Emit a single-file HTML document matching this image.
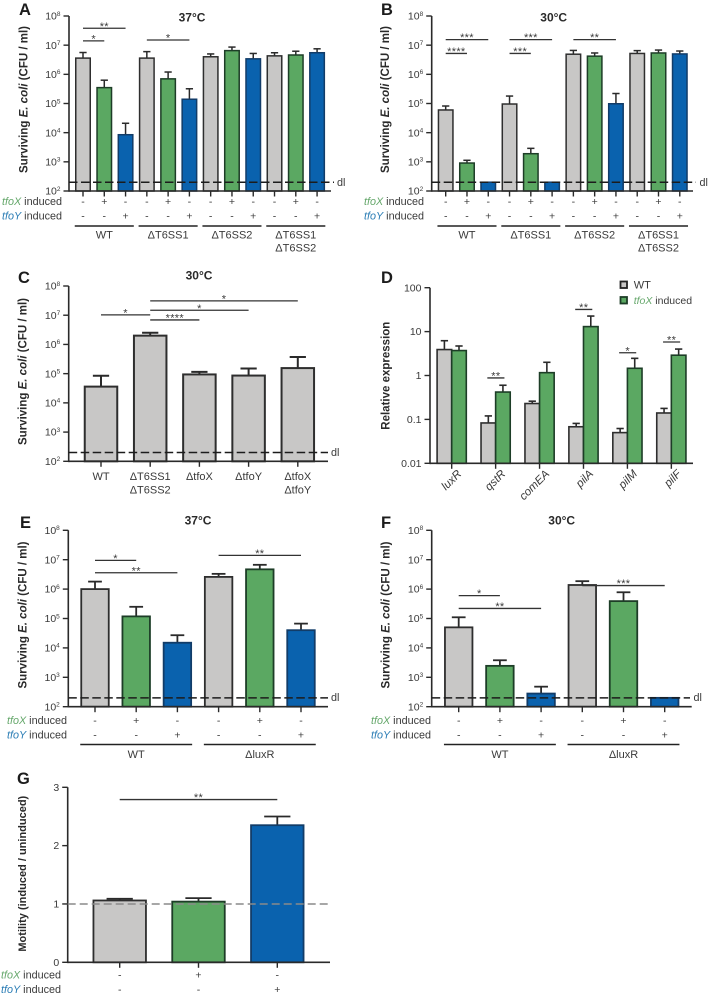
<!DOCTYPE html>
<html lang="en">
<head>
<meta charset="utf-8">
<title>Surviving E. coli bar charts</title>
<style>
html,body{margin:0;padding:0;background:#fff;}
svg{display:block;font-family:"Liberation Sans",sans-serif;fill:#3a3a3a;filter:blur(0.3px);}
.letter{font-size:16.5px;font-weight:bold;fill:#1c1c1c;}
.title{font-size:12px;font-weight:bold;text-anchor:middle;fill:#2a2a2a;}
.ytitle{font-size:11.5px;font-weight:bold;text-anchor:middle;fill:#2a2a2a;}
.row{font-size:10.8px;text-anchor:end;}
.x{font-style:italic;}
.dl{font-size:10.8px;}
.tx{fill:#66a86c;font-style:italic;}
.ty{fill:#2b7db5;font-style:italic;}
</style>
</head>
<body>
<svg id="figure" width="709" height="996" viewBox="0 0 709 996" xmlns="http://www.w3.org/2000/svg">
<text class="letter" x="19" y="15">A</text>
<text class="letter" x="381" y="15">B</text>
<text class="letter" x="18" y="283">C</text>
<text class="letter" x="381" y="283">D</text>
<text class="letter" x="20" y="528">E</text>
<text class="letter" x="381" y="528">F</text>
<text class="letter" x="17" y="784">G</text>

<text class="title" x="192" y="21.5">37°C</text>
<text class="title" x="553.7" y="21.5">30°C</text>
<text class="title" x="199" y="279.5">30°C</text>
<text class="title" x="198" y="524.5">37°C</text>
<text class="title" x="561.7" y="524.5">30°C</text>

<text class="ytitle" transform="translate(27.5 99.5) rotate(-90)">Surviving <tspan font-style="italic">E. coli</tspan> (CFU / ml)</text>
<text class="ytitle" transform="translate(389 99.5) rotate(-90)">Surviving <tspan font-style="italic">E. coli</tspan> (CFU / ml)</text>
<text class="ytitle" transform="translate(26.5 371.5) rotate(-90)">Surviving <tspan font-style="italic">E. coli</tspan> (CFU / ml)</text>
<text class="ytitle" transform="translate(389.5 375.7) rotate(-90)">Relative expression</text>
<text class="ytitle" transform="translate(26.5 615) rotate(-90)">Surviving <tspan font-style="italic">E. coli</tspan> (CFU / ml)</text>
<text class="ytitle" transform="translate(389.5 615) rotate(-90)">Surviving <tspan font-style="italic">E. coli</tspan> (CFU / ml)</text>
<text class="ytitle" style="font-size:11px" transform="translate(26 873.7) rotate(-90)">Motility (induced / uninduced)</text>

<text class="row" x="62" y="205"><tspan class="tx">tfoX</tspan> induced</text>
<text class="row" x="62" y="219.7"><tspan class="ty">tfoY</tspan> induced</text>
<text class="row" x="424" y="205"><tspan class="tx">tfoX</tspan> induced</text>
<text class="row" x="424" y="219.7"><tspan class="ty">tfoY</tspan> induced</text>
<text class="row" x="67" y="724"><tspan class="tx">tfoX</tspan> induced</text>
<text class="row" x="67" y="738.7"><tspan class="ty">tfoY</tspan> induced</text>
<text class="row" x="431" y="724"><tspan class="tx">tfoX</tspan> induced</text>
<text class="row" x="431" y="738.7"><tspan class="ty">tfoY</tspan> induced</text>
<text class="row" x="61" y="978.7"><tspan class="tx">tfoX</tspan> induced</text>
<text class="row" x="61" y="993"><tspan class="ty">tfoY</tspan> induced</text>

<text class="dl" x="337" y="186">dl</text>
<text class="dl" x="699.5" y="186">dl</text>
<text class="dl" x="331" y="456">dl</text>
<text class="dl" x="331" y="701">dl</text>
<text class="dl" x="693.5" y="701">dl</text>

<rect x="620.5" y="281.5" width="6.5" height="6.5" fill="#c8c7c6" stroke="#222" stroke-width="1.8"/>
<text x="633.7" y="288.5" font-size="11">WT</text>
<rect x="620.5" y="297" width="6.5" height="6.5" fill="#5ba862" stroke="#1d3d27" stroke-width="1.8"/>
<text x="633.7" y="304" font-size="10.5"><tspan class="tx">tfoX</tspan> induced</text>
</svg>

<script>
// ---------- Data ----------
const detectionLimit = 200;
const motilityReference = 1;
const survivalTicks = [1e2, 1e3, 1e4, 1e5, 1e6, 1e7, 1e8];

const panelAValues = [3.6e6, 3.5e5, 8.5e3, 3.6e6, 7e5, 1.4e5, 4e6, 6.5e6, 3.4e6, 4.3e6, 4.6e6, 5.5e6];
const panelAErrors = [5.6e6, 6.3e5, 2.1e4, 6e6, 1.2e6, 3.2e5, 5e6, 8.6e6, 5.2e6, 5.5e6, 6.2e6, 7.5e6];
const panelATfoX = ['-', '+', '-', '-', '+', '-', '-', '+', '-', '-', '+', '-'];
const panelATfoY = ['-', '-', '+', '-', '-', '+', '-', '-', '+', '-', '-', '+'];
const panelAGroups = ['WT', 'ΔT6SS1', 'ΔT6SS2', 'ΔT6SS1|ΔT6SS2'];
const panelASigFrom = [0, 0, 3];
const panelASigTo = [2, 1, 5];
const panelASigLevel = [3.8e7, 1.4e7, 1.5e7];
const panelASigLabel = ['**', '*', '*'];

const panelBValues = [6e4, 9.1e2, 200, 9.6e4, 1.9e3, 200, 4.9e6, 4.2e6, 9.8e4, 5.2e6, 5.4e6, 5e6];
const panelBErrors = [8.2e4, 1.13e3, 200, 1.8e5, 2.9e3, 200, 6.6e6, 5.4e6, 2.2e5, 6.5e6, 6.8e6, 6.3e6];
const panelBTfoX = ['-', '+', '-', '-', '+', '-', '-', '+', '-', '-', '+', '-'];
const panelBTfoY = ['-', '-', '+', '-', '-', '+', '-', '-', '+', '-', '-', '+'];
const panelBGroups = ['WT', 'ΔT6SS1', 'ΔT6SS2', 'ΔT6SS1|ΔT6SS2'];
const panelBSigFrom = [0, 0, 3, 3, 6];
const panelBSigTo = [2, 1, 5, 4, 8];
const panelBSigLevel = [1.55e7, 5.2e6, 1.55e7, 5.2e6, 1.55e7];
const panelBSigLabel = ['***', '****', '***', '***', '**'];

const panelCCategories = ['WT', 'ΔT6SS1|ΔT6SS2', 'ΔtfoX', 'ΔtfoY', 'ΔtfoX|ΔtfoY'];
const panelCValues = [3.6e4, 2e6, 9.4e4, 8.6e4, 1.55e5];
const panelCErrors = [8.5e4, 2.5e6, 1.15e5, 1.5e5, 3.7e5];
const panelCSigFrom = [0, 1, 1, 1];
const panelCSigTo = [1, 2, 3, 4];
const panelCSigLevel = [1.03e7, 6.9e6, 1.48e7, 3.1e7];
const panelCSigLabel = ['*', '****', '*', '*'];

const panelDGenes = ['luxR', 'qstR', 'comEA', 'pilA', 'pilM', 'pilF'];
const panelDWildType = [3.9, 0.083, 0.23, 0.068, 0.05, 0.14];
const panelDWildTypeErrors = [6.2, 0.12, 0.26, 0.081, 0.062, 0.178];
const panelDInduced = [3.7, 0.42, 1.16, 13, 1.46, 2.9];
const panelDInducedErrors = [4.7, 0.6, 2.0, 22.6, 2.46, 4.0];
const panelDTicks = [0.01, 0.1, 1, 10, 100];
const panelDTickLabels = ['0.01', '0.1', '1', '10', '100'];
const panelDSigGene = [1, 3, 4, 5];
const panelDSigLevel = [0.88, 32, 3.3, 5.8];
const panelDSigLabel = ['**', '**', '*', '**'];

const panelEValues = [1e6, 1.18e5, 1.5e4, 2.6e6, 4.7e6, 4e4];
const panelEErrors = [1.8e6, 2.5e5, 2.7e4, 3.3e6, 6.7e6, 6.7e4];
const panelETfoX = ['-', '+', '-', '-', '+', '-'];
const panelETfoY = ['-', '-', '+', '-', '-', '+'];
const panelEGroups = ['WT', 'ΔluxR'];
const panelESigFrom = [0, 0, 3];
const panelESigTo = [1, 2, 5];
const panelESigLevel = [9.5e6, 3.6e6, 1.4e7];
const panelESigLabel = ['*', '**', '**'];

const panelFValues = [5e4, 2.45e3, 2.8e2, 1.38e6, 3.9e5, 200];
const panelFErrors = [1.1e5, 3.8e3, 4.8e2, 1.86e6, 7.8e5, 200];
const panelFTfoX = ['-', '+', '-', '-', '+', '-'];
const panelFTfoY = ['-', '-', '+', '-', '-', '+'];
const panelFGroups = ['WT', 'ΔluxR'];
const panelFSigFrom = [0, 0, 3];
const panelFSigTo = [1, 2, 5];
const panelFSigLevel = [6e5, 2.2e5, 1.32e6];
const panelFSigLabel = ['*', '**', '***'];

const panelGValues = [1.06, 1.04, 2.35];
const panelGErrors = [1.09, 1.10, 2.50];
const panelGTfoX = ['-', '+', '-'];
const panelGTfoY = ['-', '-', '+'];
const panelGTicks = [0, 1, 2, 3];
const panelGSigFrom = [0];
const panelGSigTo = [2];
const panelGSigLevel = [2.79];
const panelGSigLabel = ['**'];

// ---------- Helpers ----------
const SVGNS = 'http://www.w3.org/2000/svg';
const figure = document.getElementById('figure');
const INK = '#2a2a2a';
const FILLS = {grey: '#c8c7c6', green: '#5ba862', blue: '#0a62ae'};
const EDGES = {grey: '#2e2e2e', green: '#1d3d27', blue: '#123c68'};

function mk(tag, attrs, parent) {
  const node = document.createElementNS(SVGNS, tag);
  for (const k in attrs) node.setAttribute(k, attrs[k]);
  (parent || figure).appendChild(node);
  return node;
}
function logScale(lay) {
  const lo = Math.log10(lay.min), hi = Math.log10(lay.max);
  return v => lay.bottom - (Math.log10(v) - lo) * (lay.bottom - lay.top) / (hi - lo);
}
function linearScale(lay) {
  return v => lay.bottom - (v - lay.min) * (lay.bottom - lay.top) / (lay.max - lay.min);
}
function bandScale(lay) {
  return i => lay.first + i * lay.step;
}

function drawAxes(lay, y, ticks, labels, name) {
  const g = mk('g', {});
  
  
  const yAxis = mk('line', {x1: lay.axisX, x2: lay.axisX, y1: lay.top, y2: lay.bottom + 0.8, stroke: INK, 'stroke-width': 1.6}, g);
  
  
  const xAxis = mk('line', {x1: lay.axisX, x2: lay.xEnd, y1: lay.bottom, y2: lay.bottom, stroke: INK, 'stroke-width': 1.6}, g);
  
  
  ticks.forEach((t, i) => {
    const tk = mk('line', {x1: lay.axisX - 5.5, x2: lay.axisX, y1: y(t), y2: y(t), stroke: INK, 'stroke-width': 1.4}, g);
    
    
    const tx = mk('text', {x: lay.axisX - 8.5, y: y(t) + 3.6, 'text-anchor': 'end', 'font-size': 10.5}, g);
    
    
    if (labels) {
      tx.textContent = labels[i];
    } else {
      tx.appendChild(document.createTextNode('10'));
      const sup = mk('tspan', {'font-size': 6.5, dy: -3.8}, tx);
      sup.textContent = String(Math.round(Math.log10(t)));
    }
  });
}

function drawBar(x, w, yTop, yBottom, yErr, kind, sw) {
  const hasErr = yErr < yTop - 0.01;
  if (hasErr) {
    const stem = mk('line', {x1: x, x2: x, y1: yTop, y2: yErr, stroke: INK, 'stroke-width': sw});
    
    
    const cap = mk('line', {x1: x - w / 4, x2: x + w / 4, y1: yErr, y2: yErr, stroke: INK, 'stroke-width': sw});
    
    
  }
  const r = mk('rect', {x: x - w / 2, y: yTop, width: w, height: yBottom - yTop, fill: FILLS[kind], stroke: EDGES[kind], 'stroke-width': sw});
  
  
}

function drawSig(x1, x2, yLine, label) {
  const l = mk('line', {x1: x1, x2: x2, y1: yLine, y2: yLine, stroke: '#333', 'stroke-width': 1.3});
  
  
  const s = mk('text', {x: (x1 + x2) / 2, y: yLine + 1.6, 'text-anchor': 'middle', 'font-size': 11, 'letter-spacing': 0.3});
  
  
  s.textContent = label;
}

function drawRefLine(x1, x2, yy, color, dash) {
  const d = mk('line', {x1: x1, x2: x2, y1: yy, y2: yy, stroke: color, 'stroke-width': 1.5, 'stroke-dasharray': dash});
  
  
}

function drawMultilineLabel(x, baseline, text, leading) {
  text.split('|').forEach((part, k) => {
    const t = mk('text', {x: x, y: baseline + k * leading, 'text-anchor': 'middle', 'font-size': 11});
    
    
    t.textContent = part;
  });
}

function drawPanel(p) {
  const lay = p.layout;
  const y = lay.scale === 'linear' ? linearScale(lay) : logScale(lay);
  const x = bandScale(lay);
  p.values.forEach((v, i) => {
    let kind = 'grey';
    if (p.tfoX && p.tfoX[i] === '+') kind = 'green';
    if (p.tfoY && p.tfoY[i] === '+') kind = 'blue';
    drawBar(x(i), lay.barWidth, y(v), lay.bottom, y(p.errors[i]), kind, lay.strokeWidth);
    const tk = mk('line', {x1: x(i), x2: x(i), y1: lay.bottom, y2: lay.bottom + 5.5, stroke: INK, 'stroke-width': 1.4});
    
    
  });
  drawAxes(lay, y, p.ticks, p.tickLabels, p.name);
  drawRefLine(lay.axisX, lay.refEnd, y(p.reference), p.refColor, p.refDash);
  p.sigFrom.forEach((f, i) => {
    drawSig(x(f), x(p.sigTo[i]), y(p.sigLevel[i]), p.sigLabel[i]);
  });
  if (p.tfoX) {
    p.tfoX.forEach((mark, i) => {
      const a = mk('text', {x: x(i), y: lay.rowX, 'text-anchor': 'middle', 'font-size': 10.5});
      
      
      a.textContent = mark;
      const b = mk('text', {x: x(i), y: lay.rowY, 'text-anchor': 'middle', 'font-size': 10.5});
      
      
      b.textContent = p.tfoY[i];
    });
  }
  if (p.groups) {
    p.groups.forEach((g, k) => {
      const a = x(k * 3), b = x(k * 3 + 2), ext = lay.barWidth / 2 + 1;
      const l = mk('line', {x1: a - ext, x2: b + ext, y1: lay.groupY, y2: lay.groupY, stroke: '#222', 'stroke-width': 1.5});
      
      
      drawMultilineLabel((a + b) / 2, lay.groupLabelY, g, 13);
    });
  }
  if (p.categories) {
    p.categories.forEach((c, i) => drawMultilineLabel(x(i), lay.categoryY, c, 13.3));
  }
}

// ---------- Layouts ----------
const survivalAB = {scale: 'log', min: 1e2, max: 1e8, top: 16, bottom: 191, barWidth: 14.5, step: 21.28, strokeWidth: 1.5, rowX: 205, rowY: 219.7, groupY: 226, groupLabelY: 238.7};
const panelALayout = Object.assign({axisX: 69, xEnd: 331, first: 83, refEnd: 334}, survivalAB);
const panelBLayout = Object.assign({axisX: 431.7, xEnd: 693, first: 445.7, refEnd: 696}, survivalAB);
const panelCLayout = {scale: 'log', min: 1e2, max: 1e8, top: 286, bottom: 461.3, axisX: 68.7, xEnd: 328, first: 101, step: 49.2, barWidth: 32.5, strokeWidth: 2, refEnd: 328, categoryY: 480};
const survivalEF = {scale: 'log', min: 1e2, max: 1e8, top: 530.3, bottom: 706.7, step: 41.2, barWidth: 27.5, strokeWidth: 1.8, rowX: 724, rowY: 738.7, groupY: 744.5, groupLabelY: 758};
const panelELayout = Object.assign({axisX: 68.3, xEnd: 328, first: 95, refEnd: 328}, survivalEF);
const panelFLayout = Object.assign({axisX: 431.7, xEnd: 691.7, first: 458.7, refEnd: 690}, survivalEF);
const panelGLayout = {scale: 'linear', min: 0, max: 3, top: 787.3, bottom: 962.3, axisX: 67.7, xEnd: 330, first: 119.7, step: 78.8, barWidth: 52.5, strokeWidth: 1.8, refEnd: 331, rowX: 978.7, rowY: 993};

// ---------- Panels ----------
const dlDash = '8.5 3.5';
drawPanel({name: 'panel-a', layout: panelALayout, values: panelAValues, errors: panelAErrors, tfoX: panelATfoX, tfoY: panelATfoY, groups: panelAGroups, ticks: survivalTicks, reference: detectionLimit, refColor: '#1c1c1c', refDash: dlDash, sigFrom: panelASigFrom, sigTo: panelASigTo, sigLevel: panelASigLevel, sigLabel: panelASigLabel});
drawPanel({name: 'panel-b', layout: panelBLayout, values: panelBValues, errors: panelBErrors, tfoX: panelBTfoX, tfoY: panelBTfoY, groups: panelBGroups, ticks: survivalTicks, reference: detectionLimit, refColor: '#1c1c1c', refDash: dlDash, sigFrom: panelBSigFrom, sigTo: panelBSigTo, sigLevel: panelBSigLevel, sigLabel: panelBSigLabel});
drawPanel({name: 'panel-c', layout: panelCLayout, values: panelCValues, errors: panelCErrors, categories: panelCCategories, ticks: survivalTicks, reference: detectionLimit, refColor: '#1c1c1c', refDash: dlDash, sigFrom: panelCSigFrom, sigTo: panelCSigTo, sigLevel: panelCSigLevel, sigLabel: panelCSigLabel});
drawPanel({name: 'panel-e', layout: panelELayout, values: panelEValues, errors: panelEErrors, tfoX: panelETfoX, tfoY: panelETfoY, groups: panelEGroups, ticks: survivalTicks, reference: detectionLimit, refColor: '#1c1c1c', refDash: dlDash, sigFrom: panelESigFrom, sigTo: panelESigTo, sigLevel: panelESigLevel, sigLabel: panelESigLabel});
drawPanel({name: 'panel-f', layout: panelFLayout, values: panelFValues, errors: panelFErrors, tfoX: panelFTfoX, tfoY: panelFTfoY, groups: panelFGroups, ticks: survivalTicks, reference: detectionLimit, refColor: '#1c1c1c', refDash: dlDash, sigFrom: panelFSigFrom, sigTo: panelFSigTo, sigLevel: panelFSigLevel, sigLabel: panelFSigLabel});
drawPanel({name: 'panel-g', layout: panelGLayout, values: panelGValues, errors: panelGErrors, tfoX: panelGTfoX, tfoY: panelGTfoY, ticks: panelGTicks, tickLabels: panelGTicks, reference: motilityReference, refColor: '#8a8a8a', refDash: '8 4', sigFrom: panelGSigFrom, sigTo: panelGSigTo, sigLevel: panelGSigLevel, sigLabel: panelGSigLabel});

// Panel D: paired bars per gene
const panelDLayout = {scale: 'log', min: 0.01, max: 100, top: 287.7, bottom: 463.3, axisX: 430, xEnd: 693, first: 451.7, step: 43.93, barWidth: 14.6, strokeWidth: 1.6};
(function () {
  const lay = panelDLayout;
  const y = logScale(lay);
  const x = bandScale(lay);
  panelDGenes.forEach((gene, i) => {
    drawBar(x(i) - lay.barWidth / 2, lay.barWidth, y(panelDWildType[i]), lay.bottom, y(panelDWildTypeErrors[i]), 'grey', lay.strokeWidth);
    drawBar(x(i) + lay.barWidth / 2, lay.barWidth, y(panelDInduced[i]), lay.bottom, y(panelDInducedErrors[i]), 'green', lay.strokeWidth);
    const tk = mk('line', {x1: x(i), x2: x(i), y1: lay.bottom, y2: lay.bottom + 5.5, stroke: INK, 'stroke-width': 1.4});
    
    
    const ax = x(i) + 10.5, ay = 474.5;
    const t = mk('text', {x: ax, y: ay, 'text-anchor': 'end', 'font-size': 11.5, 'font-style': 'italic', transform: 'rotate(-45 ' + ax + ' ' + ay + ')'});
    
    
    t.textContent = gene;
  });
  drawAxes(lay, y, panelDTicks, panelDTickLabels, 'panel-d');
  panelDSigGene.forEach((g, i) => {
    drawSig(x(g) - 8.3, x(g) + 8.8, y(panelDSigLevel[i]), panelDSigLabel[i]);
  });
})();
</script>
</body>
</html>
